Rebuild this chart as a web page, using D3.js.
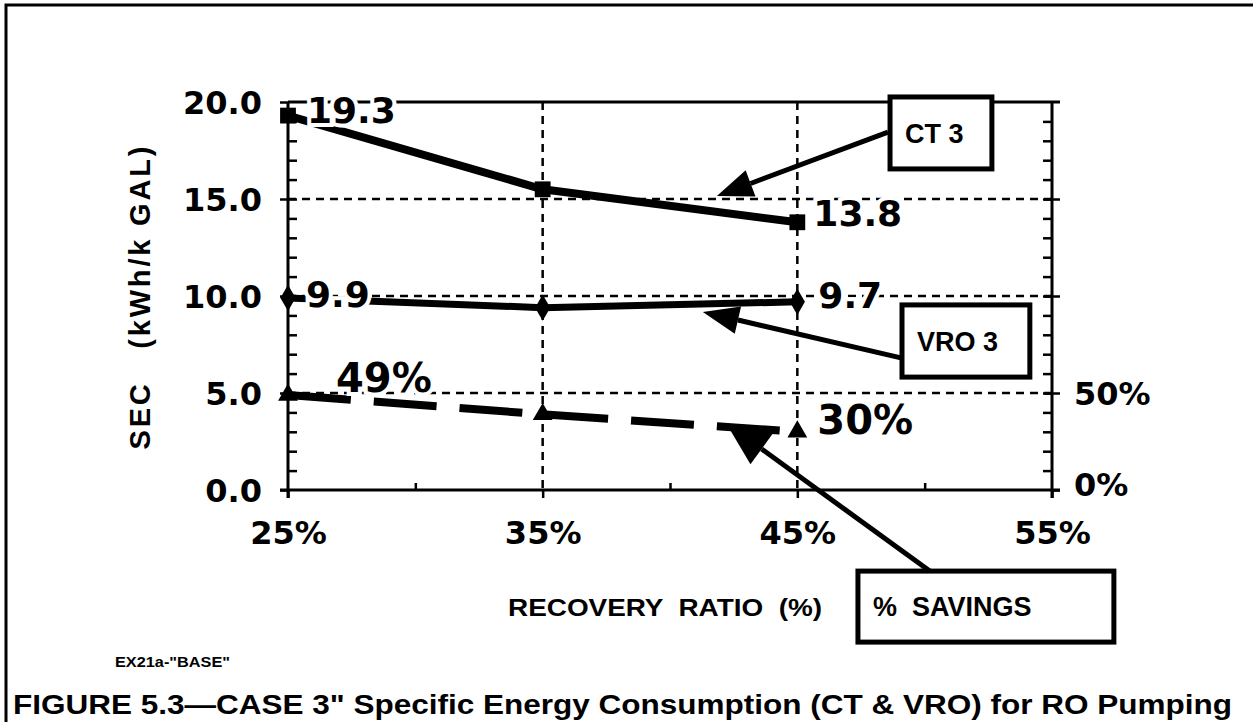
<!DOCTYPE html>
<html><head><meta charset="utf-8">
<script src="https://cdn.jsdelivr.net/npm/d3@7"></script>
<style>
body{margin:0;background:#fff}
svg{display:block}
text{font-family:"Liberation Sans",Arial,Helvetica,sans-serif;font-weight:bold;fill:#000}
text.num{font-family:"DejaVu Sans",Verdana,sans-serif}
</style>
</head><body>
<svg id="chart" width="1253" height="722"></svg>
<script>
// ---------------- data ----------------
const recovery = [25, 35, 45];               // recovery ratio (%)
const ctSec = [19.3, 15.5, 13.8];            // CT 3 SEC (kWh/k gal)
const vroSec = [9.9, 9.4, 9.7];              // VRO 3 SEC (kWh/k gal)
const savingsPct = [49, 39, 30];             // % savings
const ctLabels = ["19.3", "", "13.8"];
const vroLabels = ["9.9", "", "9.7"];
const savingsLabels = ["49%", "", "30%"];
const xTickValues = [25, 35, 45, 55];
const xTickLabels = ["25%", "35%", "45%", "55%"];
const yTickValues = [0, 5, 10, 15, 20];
const yTickLabels = ["0.0", "5.0", "10.0", "15.0", "20.0"];
const rightTickValues = [0, 50];
const rightTickLabels = ["0%", "50%"];
const gridY = [5, 10, 15];
const gridX = [35, 45];

// ---------------- layout ----------------
const svg = d3.select("#chart");
const x = d3.scaleLinear().domain([25, 55]).range([288, 1052]);
const y = d3.scaleLinear().domain([0, 20]).range([490, 102]);
const yR = d3.scaleLinear().domain([0, 200]).range([490, 102]);

// outer frame
svg.append("path").attr("d", "M6,722V5H1253").attr("fill", "none").attr("stroke", "#000").attr("stroke-width", 3);

// grid
svg.append("g").selectAll("line").data(gridY).join("line")
  .attr("x1", x(25)).attr("x2", x(55)).attr("y1", d => y(d)).attr("y2", d => y(d))
  .attr("stroke", "#000").attr("stroke-width", 2.5).attr("stroke-dasharray", "8,6");
svg.append("g").selectAll("line").data(gridX).join("line")
  .attr("x1", d => x(d)).attr("x2", d => x(d)).attr("y1", y(20)).attr("y2", y(0))
  .attr("stroke", "#000").attr("stroke-width", 2.5).attr("stroke-dasharray", "8,6");

// axes
function styleAxis(g) {
  g.select(".domain").remove();
  g.selectAll(".tick line").attr("stroke", "#000").attr("stroke-width", 2.5);
}
// left major (outward) + labels
svg.append("g").attr("transform", `translate(${x(25)},0)`)
  .call(d3.axisLeft(y).tickValues(yTickValues).tickSize(8).tickPadding(18)
        .tickFormat((d, i) => yTickLabels[i]))
  .call(styleAxis)
  .call(g => g.selectAll("text").attr("class", "num").attr("font-size", 32).attr("font-family", null).attr("dy", "0.36em"));
// left minor (inward)
svg.append("g").attr("transform", `translate(${x(25)},0)`)
  .call(d3.axisRight(y).tickValues(d3.range(1, 20)).tickSize(9).tickFormat(""))
  .call(styleAxis);
// right minor (inward)
svg.append("g").attr("transform", `translate(${x(55)},0)`)
  .call(d3.axisLeft(y).tickValues(d3.range(1, 20)).tickSize(9).tickFormat(""))
  .call(styleAxis);
// right major (crossing)
svg.append("g").attr("transform", `translate(${x(55)},0)`)
  .call(d3.axisRight(yR).tickValues([0, 50, 100, 150]).tickSize(8).tickFormat(""))
  .call(styleAxis);
svg.append("g").attr("transform", `translate(${x(55)},0)`)
  .call(d3.axisLeft(yR).tickValues([50, 100, 150]).tickSize(8).tickFormat(""))
  .call(styleAxis);
// right labels
svg.append("g").selectAll("text").data(rightTickValues).join("text")
  .attr("class", "num")
  .attr("x", x(55) + 22).attr("y", d => yR(d) - (d === 0 ? 6 : 0))
  .attr("dy", "0.36em").attr("font-size", 32)
  .text((d, i) => rightTickLabels[i]);
// bottom axis
svg.append("g").attr("transform", `translate(0,${y(0)})`)
  .call(d3.axisBottom(x).tickValues(xTickValues).tickSize(8).tickPadding(34)
        .tickFormat((d, i) => xTickLabels[i]))
  .call(styleAxis)
  .call(g => g.selectAll("text").attr("class", "num").attr("font-size", 32).attr("font-family", null).attr("dy", "0.36em"));
svg.append("g").attr("transform", `translate(0,${y(0)})`)
  .call(d3.axisTop(x).tickValues([30, 40, 50]).tickSize(7).tickFormat(""))
  .call(styleAxis);

// axis lines (frame)
const frame = svg.append("g").attr("stroke", "#000").attr("stroke-width", 3).attr("fill", "none");
frame.append("line").attr("x1", x(25)).attr("x2", x(25)).attr("y1", y(20)).attr("y2", y(0) + 8);
frame.append("line").attr("x1", x(55)).attr("x2", x(55)).attr("y1", y(20)).attr("y2", y(0) + 8);
frame.append("line").attr("x1", x(25) - 8).attr("x2", x(55) + 8).attr("y1", y(0)).attr("y2", y(0));
frame.append("line").attr("x1", x(25)).attr("x2", x(55) + 8).attr("y1", y(20)).attr("y2", y(20));

// ---------------- series ----------------
const ctPts = recovery.map((r, i) => [x(r), y(ctSec[i])]);
const vroPts = recovery.map((r, i) => [x(r), y(vroSec[i])]);
const savPts = recovery.map((r, i) => [x(r), yR(savingsPct[i])]);
const line = d3.line();

svg.append("path").attr("d", line(ctPts)).attr("fill", "none").attr("stroke", "#000")
  .attr("stroke-width", 8).attr("stroke-linejoin", "round");
svg.append("path").attr("d", line(vroPts)).attr("fill", "none").attr("stroke", "#000")
  .attr("stroke-width", 7).attr("stroke-linejoin", "round");
svg.append("path").attr("d", line(savPts)).attr("fill", "none").attr("stroke", "#000")
  .attr("stroke-width", 8).attr("stroke-dasharray", "63,23");

function markers(pts, type, size) {
  svg.append("g").selectAll("path").data(pts).join("path")
    .attr("transform", d => `translate(${d[0]},${d[1]})`)
    .attr("d", d3.symbol().type(type).size(size)).attr("fill", "#000");
}
markers(ctPts, d3.symbolSquare, 250);
markers(vroPts, d3.symbolDiamond, 200);
markers(savPts, d3.symbolTriangle, 170);

// value labels
function valueLabels(pts, labels, offsets, fs) {
  svg.append("g").selectAll("text").data(pts).join("text")
    .attr("class", "num")
    .attr("x", (d, i) => d[0] + offsets[i][0]).attr("y", (d, i) => d[1] + offsets[i][1])
    .attr("dy", "0.36em").attr("font-size", fs)
    .attr("stroke", "#fff").attr("stroke-width", 8).attr("paint-order", "stroke")
    .text((d, i) => labels[i]);
}
valueLabels(ctPts, ctLabels, [[19, -6], [0, 0], [16, -9]], 36);
valueLabels(vroPts, vroLabels, [[18, -4], [0, 0], [21, -7]], 36);
valueLabels(savPts, savingsLabels, [[48, -17], [0, 0], [20, -12]], 40);

// ---------------- annotations (data coordinates) ----------------
const annotations = [
  {text: "CT 3", x0: 48.64, x1: 52.64, y0: 20.26, y1: 16.55, from: [48.56, 18.45], to: [41.84, 15.15], L: 36, W: 14},
  {text: "VRO 3", x0: 49.11, x1: 54.13, y0: 9.54, y1: 5.82, from: [49.11, 6.80], to: [41.29, 9.18], L: 36, W: 14},
  {text: "%  SAVINGS", x0: 47.38, x1: 57.43, y0: -4.18, y1: -7.84, from: [50.2, -4.18], to: [42.2, 3.45], L: 44, W: 19}
];
annotations.forEach(a => {
  const bx = x(a.x0), by = y(a.y0), bw = x(a.x1) - x(a.x0), bh = y(a.y1) - y(a.y0);
  const sx = x(a.from[0]), sy = y(a.from[1]), tx = x(a.to[0]), ty = y(a.to[1]);
  const dx = tx - sx, dy = ty - sy, len = Math.hypot(dx, dy);
  const ux = dx / len, uy = dy / len, px = -uy, py = ux;
  const cx = tx - ux * a.L, cy = ty - uy * a.L;
  svg.append("line").attr("x1", sx).attr("y1", sy).attr("x2", cx).attr("y2", cy)
    .attr("stroke", "#000").attr("stroke-width", 5);
  svg.append("path")
    .attr("d", `M${tx},${ty}L${cx + px * a.W},${cy + py * a.W}L${cx - px * a.W},${cy - py * a.W}Z`)
    .attr("fill", "#000");
  svg.append("rect").attr("x", bx).attr("y", by).attr("width", bw).attr("height", bh)
    .attr("fill", "#fff").attr("stroke", "#000").attr("stroke-width", 5);
  svg.append("text").attr("x", bx + 15).attr("y", by + bh / 2).attr("dy", "0.36em")
    .attr("font-size", 27).style("white-space", "pre").text(a.text);
});

// ---------------- titles ----------------
svg.append("text").attr("transform", "translate(150,298) rotate(-90)")
  .attr("text-anchor", "middle").attr("font-size", 29)
  .attr("textLength", 303).attr("lengthAdjust", "spacing")
  .style("white-space", "pre").text("SEC   (kWh/k GAL)");
svg.append("text").attr("x", 508).attr("y", 616).attr("font-size", 24)
  .attr("textLength", 314).attr("lengthAdjust", "spacingAndGlyphs")
  .style("white-space", "pre").text("RECOVERY  RATIO  (%)");
svg.append("text").attr("x", 115).attr("y", 667).attr("font-size", 15)
  .attr("textLength", 115).attr("lengthAdjust", "spacingAndGlyphs")
  .text('EX21a-"BASE"');
svg.append("text").attr("x", 13).attr("y", 714).attr("font-size", 27)
  .attr("textLength", 1219).attr("lengthAdjust", "spacingAndGlyphs")
  .text('FIGURE 5.3\u2014CASE 3" Specific Energy Consumption (CT & VRO) for RO Pumping');
</script>
</body></html>
